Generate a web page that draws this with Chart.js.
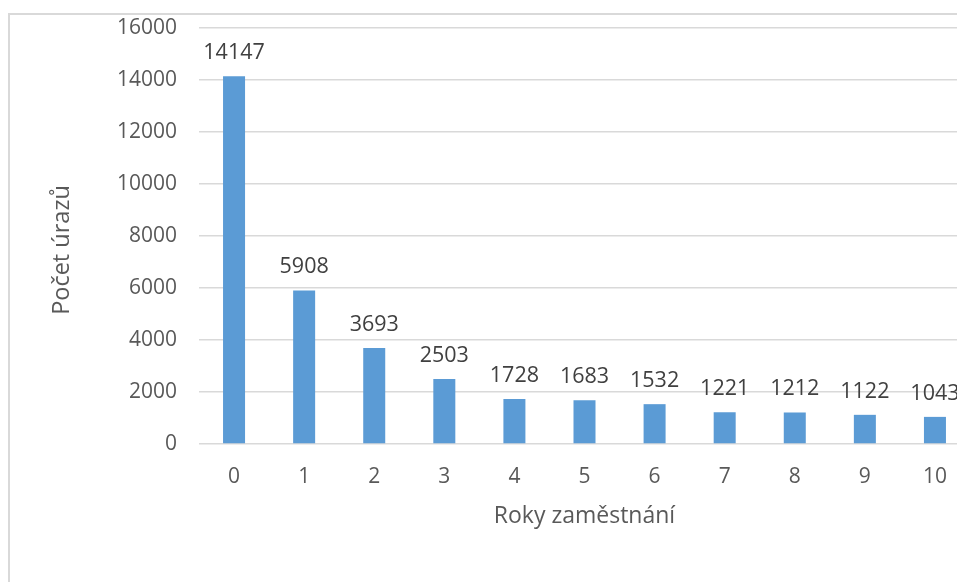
<!DOCTYPE html>
<html>
<head>
<meta charset="utf-8">
<script src="https://cdn.jsdelivr.net/npm/chart.js@4.4.1/dist/chart.umd.min.js"></script>
<style>
  html, body { margin: 0; padding: 0; background: #fff; overflow: hidden; width: 957px; height: 582px; }
  #frame { position: absolute; left: 8px; top: 13px; width: 1100px; height: 700px; border: 2px solid #d9d9d9; box-sizing: border-box; }
  #wrap { position: absolute; left: 0; top: 0; width: 1000px; height: 582px; }
</style>
</head>
<body>
<div id="frame"></div>
<div id="wrap"><canvas id="chart"></canvas></div>
<script>
// Roky zaměstnání -> počet úrazů
const roky = ['0', '1', '2', '3', '4', '5', '6', '7', '8', '9', '10'];
const urazy = [14147, 5908, 3693, 2503, 1728, 1683, 1532, 1221, 1212, 1122, 1043];
const yMax = 16000;
const yStep = 2000;
const yTitle = 'Počet úrazů';
const xTitle = 'Roky zaměstnání';

const fontName = "'Open Sans', 'Noto Sans', sans-serif";

// popisky hodnot nad sloupci + svislý titulek osy
const valueLabels = {
    id: 'valueLabels',
    afterDatasetsDraw(chart) {
        const ctx = chart.ctx;
        const meta = chart.getDatasetMeta(0);
        ctx.save();
        ctx.font = '21.5px ' + fontName;
        ctx.fillStyle = '#404040';
        ctx.textAlign = 'center';
        ctx.textBaseline = 'alphabetic';
        meta.data.forEach((bar, i) => {
            ctx.fillText(urazy[i], bar.x, bar.y - 17);
        });

        // titulek osy Y (o kousek níž než střed osy, jako v Excelu)
        const area = chart.chartArea;
        ctx.translate(62, (area.top + area.bottom) / 2 + 14);
        ctx.rotate(-Math.PI / 2);
        ctx.font = '23.5px ' + fontName;
        ctx.fillStyle = '#595959';
        ctx.textBaseline = 'middle';
        ctx.fillText(yTitle, 0, 0);
        ctx.restore();
    }
};

new Chart(document.getElementById('chart'), {
    type: 'bar',
    data: {
        labels: roky,
        datasets: [{
            data: urazy,
            backgroundColor: '#5b9bd5',
            borderWidth: 0,
            categoryPercentage: 1,
            barPercentage: 0.314
        }]
    },
    options: {
        responsive: true,
        maintainAspectRatio: false,
        animation: false,
        layout: { padding: { top: 28, right: 30, bottom: 0, left: 0 } },
        plugins: { legend: { display: false }, tooltip: { enabled: false } },
        scales: {
            x: {
                grid: { display: false, drawTicks: false },
                border: { display: false },
                ticks: { color: '#595959', font: { family: fontName, size: 21 }, padding: 20 },
                title: {
                    display: true,
                    text: xTitle,
                    color: '#595959',
                    font: { family: fontName, size: 23 },
                    padding: { top: 0, bottom: 52 }
                },
                afterFit(scale) { scale.height = 138; }
            },
            y: {
                min: 0,
                max: yMax,
                ticks: {
                    stepSize: yStep,
                    color: '#595959',
                    font: { family: fontName, size: 21 },
                    padding: 22,
                    callback: v => String(v)
                },
                grid: { color: '#d9d9d9', lineWidth: 1.5, drawTicks: false },
                border: { display: false },
                afterFit(scale) {
                    scale.width = 199;
                    scale.paddingTop = 0;
                    scale.paddingBottom = 0;
                }
            }
        }
    },
    plugins: [valueLabels]
});
</script>
</body>
</html>
